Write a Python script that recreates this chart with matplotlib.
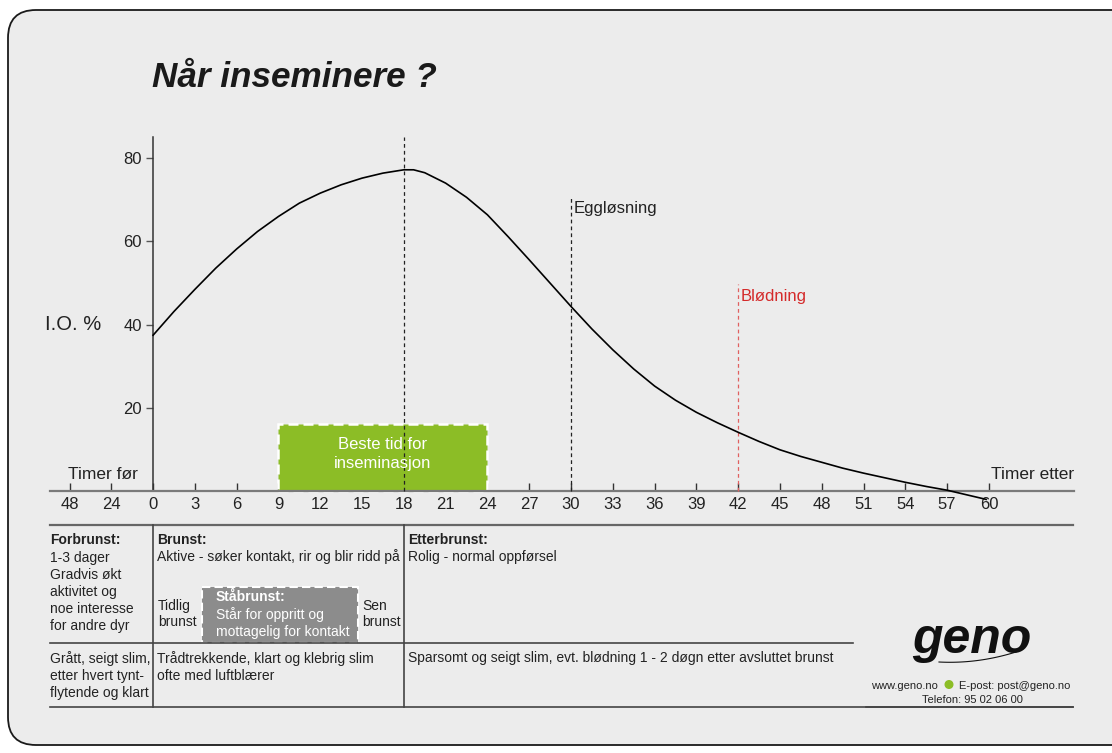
import numpy as np
import matplotlib.pyplot as plt
from matplotlib.patches import FancyBboxPatch, Rectangle, Circle

plt.rcParams['font.family'] = ['Liberation Sans', 'DejaVu Sans']

# kurve: timer etter brunststart mot I.O. %
hours = [0, 1.5, 3, 4.5, 6, 7.5, 9, 10.5, 12, 13.5, 15, 16.5, 18, 18.7, 19.5, 21,
         22.5, 24, 25.5, 27, 28.5, 30, 31.5, 33, 34.5, 36, 37.5, 39, 40.5, 42, 43.5,
         45, 46.5, 48, 49.5, 51, 52.5, 54, 55.5, 57, 59.8]
io = [37.5, 43.2, 48.5, 53.6, 58.2, 62.4, 66.0, 69.2, 71.6, 73.6, 75.2, 76.4, 77.2,
      77.2, 76.5, 74.0, 70.6, 66.4, 61.1, 55.6, 50.0, 44.4, 39.0, 34.0, 29.4, 25.3,
      21.9, 19.0, 16.5, 14.2, 12.0, 10.0, 8.4, 7.0, 5.6, 4.4, 3.3, 2.2, 1.2, 0.3, -1.9]

x_ticks = [-6, -3] + list(range(0, 61, 3))
x_labels = ['48', '24'] + [str(v) for v in range(0, 61, 3)]
y_ticks = [20, 40, 60, 80]

best_start, best_end, best_top = 9, 24, 16.2
peak_x = 18
ovulation_x, ovulation_top = 30, 70.9
bleed_x, bleed_top = 42, 49.8

W, H = 1112, 753
fig = plt.figure(figsize=(W / 100, H / 100), dpi=100)
fig.patch.set_facecolor('white')

# bakgrunn i pikselkoordinater
bg = fig.add_axes([0, 0, 1, 1], zorder=0)
bg.set_xlim(0, W)
bg.set_ylim(H, 0)
bg.axis('off')
bg.add_patch(FancyBboxPatch((8, 10), 1140, 735, boxstyle='round,pad=0,rounding_size=28',
                            facecolor='#ececec', edgecolor='#1a1a1a', lw=1.3))

ax = fig.add_axes([50 / W, 1 - 499.8 / H, (1073.9 - 50) / W, (499.8 - 137.3) / H], zorder=2)
ax.set_facecolor('none')
ax.set_xlim(-7.4, 66.1)
ax.set_ylim(-2, 85)

ax.plot(hours, io, color='black', lw=1.2, zorder=4, clip_on=False)

ax.spines['top'].set_visible(False)
ax.spines['right'].set_visible(False)
ax.spines['left'].set_position(('data', 0))
ax.spines['bottom'].set_position(('data', 0))
ax.spines['left'].set_bounds(0, 85)
ax.spines['left'].set_color('#333333')
ax.spines['left'].set_linewidth(1.1)
ax.spines['bottom'].set_color('#7a7a7a')
ax.spines['bottom'].set_linewidth(1.6)

ax.set_xticks(x_ticks)
ax.set_xticklabels(x_labels)
ax.set_yticks(y_ticks)
ax.tick_params(axis='x', direction='in', length=6, width=1, color='#333333',
               labelsize=12, labelcolor='#222222', pad=4)
ax.tick_params(axis='y', direction='out', length=5, width=1, color='#555555',
               labelsize=12, labelcolor='#222222', pad=3)

# vertikale linjer
ax.plot([peak_x, peak_x], [0, 85], color='#222222', lw=0.9, ls=(0, (3, 2.5)), zorder=3)
ax.plot([ovulation_x, ovulation_x], [0, ovulation_top], color='#222222', lw=0.9,
        ls=(0, (3, 2.5)), zorder=3)
ax.plot([bleed_x, bleed_x], [0, bleed_top], color='#e06060', lw=0.9,
        ls=(0, (3, 2.5)), zorder=3)
ax.text(ovulation_x + 0.2, 67.8, 'Eggløsning', fontsize=12, color='#222222', va='center')
ax.text(bleed_x + 0.2, 46.9, 'Blødning', fontsize=12, color='#d42a2a', va='center')

# beste tid for inseminasjon
ax.add_patch(Rectangle((best_start, 0), best_end - best_start, best_top,
                       facecolor='#8cbd26', edgecolor='white', lw=1.8,
                       ls=(0, (4, 2)), zorder=2))
ax.text((best_start + best_end) / 2, 8.9, 'Beste tid for\ninseminasjon', color='white',
        fontsize=12, ha='center', va='center', linespacing=1.35, zorder=3)

ax.text(-3.6, 4, 'Timer før', fontsize=12.5, color='#222222', ha='center', va='center')
ax.text(66.1, 4, 'Timer etter', fontsize=12.5, color='#222222', ha='right', va='center')
ax.text(-3.74, 40, 'I.O. %', fontsize=14.5, color='#222222', ha='right', va='center')

bg.text(152, 77, 'Når inseminere ?', fontsize=25.3, fontweight='bold', fontstyle='italic',
        color='#1a1a1a', va='center', ha='left')

# tabell
line_kw = dict(color='#444444', lw=1.2)
bg.plot([50, 1073], [525, 525], color='#666666', lw=1.6)
bg.plot([50, 853], [643, 643], **line_kw)
bg.plot([50, 1073], [707, 707], **line_kw)
bg.plot([153, 153], [525, 707], **line_kw)
bg.plot([404, 404], [525, 707], **line_kw)

fs = 10
tc = '#222222'
ls_t = 1.27
bg.text(50, 540, 'Forbrunst:', fontsize=fs, fontweight='bold', color=tc, va='center')
bg.text(50, 551, '1-3 dager\nGradvis økt\naktivitet og\nnoe interesse\nfor andre dyr',
        fontsize=fs, color=tc, va='top', linespacing=ls_t)
bg.text(157, 540, 'Brunst:', fontsize=fs, fontweight='bold', color=tc, va='center')
bg.text(157, 557, 'Aktive - søker kontakt, rir og blir ridd på', fontsize=fs, color=tc,
        va='center')
bg.text(158, 614, 'Tidlig\nbrunst', fontsize=fs, color=tc, va='center', linespacing=ls_t)
bg.text(362, 614, 'Sen\nbrunst', fontsize=fs, color=tc, va='center', linespacing=ls_t)
bg.add_patch(Rectangle((202, 587), 156, 56, facecolor='#8c8c8c', edgecolor='white',
                       lw=1.5, ls=(0, (4, 2))))
bg.text(216, 597, 'Ståbrunst:', fontsize=fs, fontweight='bold', color='white', va='center')
bg.text(216, 607.5, 'Står for oppritt og\nmottagelig for kontakt', fontsize=fs,
        color='white', va='top', linespacing=ls_t)
bg.text(408, 540, 'Etterbrunst:', fontsize=fs, fontweight='bold', color=tc, va='center')
bg.text(408, 557, 'Rolig - normal oppførsel', fontsize=fs, color=tc, va='center')

bg.text(50, 651, 'Grått, seigt slim,\netter hvert tynt-\nflytende og klart', fontsize=fs,
        color=tc, va='top', linespacing=ls_t)
bg.text(157, 651, 'Trådtrekkende, klart og klebrig slim\nofte med luftblærer', fontsize=fs,
        color=tc, va='top', linespacing=ls_t)
bg.text(408, 658, 'Sparsomt og seigt slim, evt. blødning 1 - 2 døgn etter avsluttet brunst',
        fontsize=fs, color=tc, va='center')

# logo
bg.text(972, 640, 'geno', fontsize=36, fontweight='heavy', fontstyle='italic',
        color='#111111', ha='center', va='center')
t = np.linspace(0, 1, 40)
bg.plot(939 + 77 * t, 662 - 14 * t ** 2 + 4 * t, color='#111111', lw=0.8)
bg.text(938, 686, 'www.geno.no', fontsize=8, color='#222222', ha='right', va='center')
bg.add_patch(Circle((949, 684.5), 3.8, color='#8cbd26'))
bg.text(959, 686, 'E-post: post@geno.no', fontsize=8, color='#222222', ha='left',
        va='center')
bg.text(972, 700, 'Telefon: 95 02 06 00', fontsize=8, color='#222222', ha='center',
        va='center')
bg.plot([866, 1073], [707, 707], **line_kw)

fig.savefig('out.png', dpi=100)
